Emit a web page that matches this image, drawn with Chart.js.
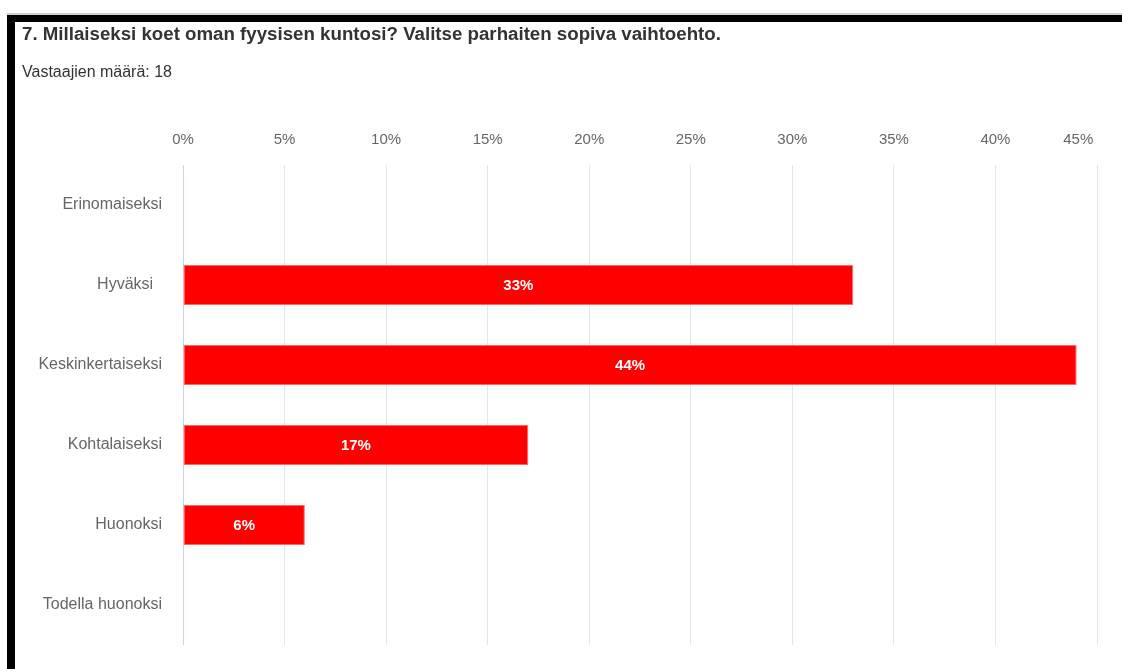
<!DOCTYPE html>
<html>
<head>
<meta charset="utf-8">
<script src="https://cdn.jsdelivr.net/npm/chart.js@4"></script>
<style>
  html, body { margin: 0; padding: 0; background: #fff; }
  body { width: 1122px; height: 669px; position: relative; overflow: hidden; font-family: 'Liberation Sans', Arial, sans-serif; }
  .topline { position: absolute; left: 7px; top: 13px; width: 1115px; height: 2px; background: #d0d0d0; }
  .frame-top { position: absolute; left: 7px; top: 15px; width: 1115px; height: 7px; background: #000; }
  .frame-left { position: absolute; left: 7px; top: 15px; width: 8px; height: 654px; background: #000; }
  .title { position: absolute; left: 22px; top: 25px; font-size: 18.7px; line-height: 18px; font-weight: bold; color: #333; white-space: nowrap; }
  .sub { position: absolute; left: 22px; top: 64px; font-size: 16px; line-height: 16px; color: #333; white-space: nowrap; }
  #chart { position: absolute; left: 0; top: 0; }
</style>
</head>
<body>
<canvas id="chart" width="1122" height="669"></canvas>
<div class="topline"></div>
<div class="frame-top"></div>
<div class="frame-left"></div>
<div class="title">7. Millaiseksi koet oman fyysisen kuntosi? Valitse parhaiten sopiva vaihtoehto.</div>
<div class="sub">Vastaajien määrä: 18</div>
<script>
// vastausvaihtoehdot ja osuudet (%)
const categories = ['Erinomaiseksi', 'Hyväksi\u00a0\u00a0', 'Keskinkertaiseksi', 'Kohtalaiseksi', 'Huonoksi', 'Todella huonoksi'];
const shares = [0, 33, 44, 17, 6, 0];
const xTicks = [0, 5, 10, 15, 20, 25, 30, 35, 40, 45];

const FONT = "'Liberation Sans', Arial, sans-serif";

// prosenttiluku palkin keskelle
const barLabels = {
  id: 'barLabels',
  afterDatasetsDraw(chart) {
    const ctx = chart.ctx;
    const meta = chart.getDatasetMeta(0);
    ctx.save();
    ctx.font = 'bold 15px ' + FONT;
    ctx.fillStyle = '#fff';
    ctx.textAlign = 'center';
    ctx.textBaseline = 'middle';
    meta.data.forEach((bar, i) => {
      const v = chart.data.datasets[0].data[i];
      if (!v) return;
      ctx.fillText(v + '%', (bar.x + bar.base) / 2, bar.y + 1);
    });
    ctx.restore();
  }
};

new Chart(document.getElementById('chart'), {
  type: 'bar',
  data: {
    labels: categories,
    datasets: [{
      data: shares,
      backgroundColor: '#ff0000',
      borderColor: '#ff6666',
      borderWidth: 1,
      borderSkipped: false,
      barPercentage: 1,
      categoryPercentage: 0.5
    }]
  },
  options: {
    indexAxis: 'y',
    responsive: false,
    animation: false,
    layout: { padding: { left: 15, right: 25, top: 0, bottom: 24 } },
    plugins: { legend: { display: false }, tooltip: { enabled: false } },
    scales: {
      x: {
        position: 'top',
        min: 0,
        max: 45,
        afterBuildTicks: s => { s.ticks = xTicks.map(v => ({ value: v })); },
        afterFit: s => { s.height = 165; s.paddingLeft = 0; s.paddingRight = 0; },
        ticks: {
          padding: 16,
          color: '#666',
          font: { family: FONT, size: 15 },
          // viimeinen arvo pidetään kaavion sisällä
          callback: (v, i, all) => i === all.length - 1 ? v + '%' + '\u00a0'.repeat(9) : v + '%'
        },
        grid: {
          drawTicks: false,
          color: c => c.index === 0 ? '#ccd6eb' : '#e6e6e6',
          lineWidth: 1
        },
        border: { display: false }
      },
      y: {
        afterFit: s => { s.width = 168; s.paddingTop = 0; s.paddingBottom = 0; },
        ticks: {
          padding: 21,
          color: '#666',
          font: { family: FONT, size: 16 }
        },
        grid: { display: false, drawTicks: false },
        border: { display: false }
      }
    }
  },
  plugins: [barLabels]
});
</script>
</body>
</html>
